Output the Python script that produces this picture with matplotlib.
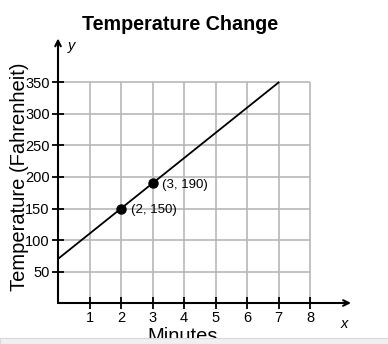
import matplotlib
matplotlib.use("Agg")
import matplotlib.pyplot as plt
from matplotlib.patches import Rectangle

plt.rcParams['font.family'] = ['Liberation Sans', 'DejaVu Sans']

title = "Temperature Change"
x_label = "Minutes"
y_label = "Temperature (Fahrenheit)"
x_ticks = [1, 2, 3, 4, 5, 6, 7, 8]
y_ticks = [50, 100, 150, 200, 250, 300, 350]
line_x = [0, 7]
line_y = [70, 350]
pts_x = [2, 3]
pts_y = [150, 190]
pt_labels = ["(2, 150)", "(3, 190)"]

fig = plt.figure(figsize=(3.88, 3.44), dpi=100)
W, H = 388, 344
left, right, top, bottom = 58, 351, 38.4, 303
ax = fig.add_axes([left / W, 1 - bottom / H, (right - left) / W, (bottom - top) / H])
ax.set_xlim(0, 9.3)
ax.set_ylim(0, 420)
for s in ax.spines.values():
    s.set_visible(False)

# grid
ax.vlines(x_ticks, 0, 350, colors='#b8b8b8', lw=1.2, zorder=1)
ax.hlines(y_ticks, 0, 8, colors='#b8b8b8', lw=1.2, zorder=1)

# axes arrows
ax.annotate('', xy=(9.3, 0), xytext=(0, 0),
            arrowprops=dict(arrowstyle='->', lw=1.5, color='black', shrinkA=0, shrinkB=0),
            annotation_clip=False)
ax.annotate('', xy=(0, 420), xytext=(0, 0),
            arrowprops=dict(arrowstyle='->', lw=1.5, color='black', shrinkA=0, shrinkB=0),
            annotation_clip=False)

ax.set_xticks(x_ticks)
ax.set_yticks(y_ticks)
ax.tick_params(direction='inout', length=8, width=1.3, labelsize=10.5, colors='black', pad=2)

ax.plot(line_x, line_y, color='black', lw=1.3, zorder=3)
ax.plot(pts_x, pts_y, 'o', color='black', ms=6.5, zorder=4)
for x, y, t in zip(pts_x, pts_y, pt_labels):
    ax.annotate(t, (x, y), xytext=(7, -1), textcoords='offset points',
                fontsize=9.5, va='center', ha='left')

ax.text(0.3, 408, 'y', fontsize=10.5, style='italic', va='center')
ax.text(9.1, -33, 'x', fontsize=10.5, style='italic', va='center', ha='center', clip_on=False)

fig.text(180 / W, 1 - 25 / H, title, fontsize=14.2, fontweight='bold', ha='center', va='center')
fig.text(20 / W, 1 - 177 / H, y_label, fontsize=14.5, rotation=90, ha='center', va='center')
fig.text(183 / W, 1 - 337 / H, x_label, fontsize=14.5, ha='center', va='center')

fig.patches.append(Rectangle((0, 0), 1, 6 / H, transform=fig.transFigure,
                             facecolor='#f0f0f0', edgecolor='#d8d8d8', lw=0.8, zorder=10))

fig.savefig('out.png', dpi=100)
